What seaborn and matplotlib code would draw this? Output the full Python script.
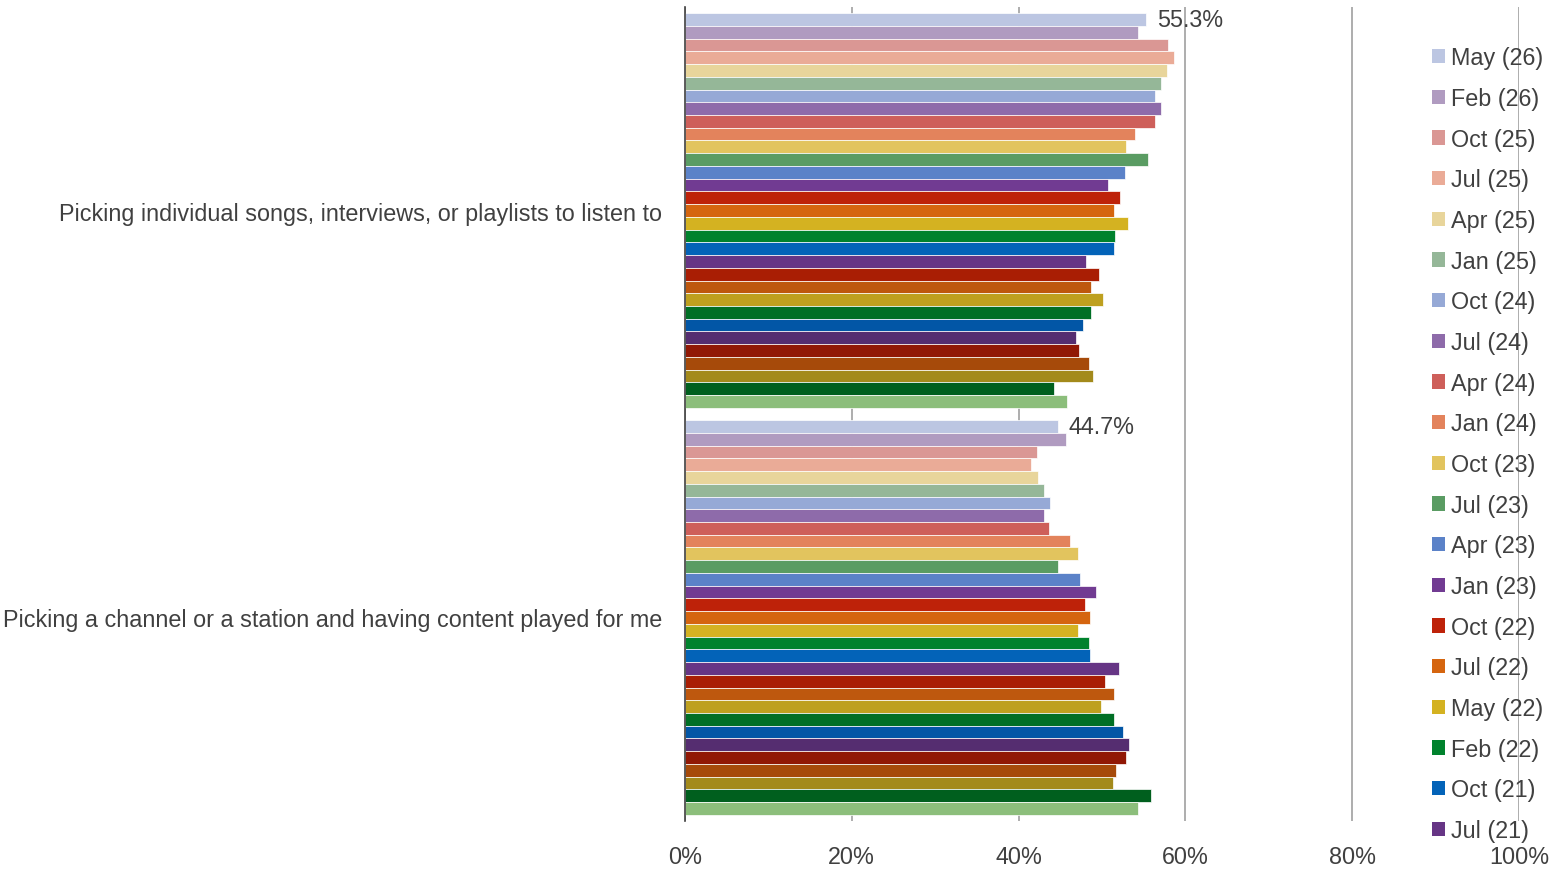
import matplotlib
matplotlib.use("Agg")
import matplotlib.pyplot as plt
from matplotlib.patches import Patch
from matplotlib.ticker import FuncFormatter
import seaborn as sns
import pandas as pd

categories = [
    "Picking individual songs, interviews, or playlists to listen to",
    "Picking a channel or a station and having content played for me",
]

series = [
    "May (26)", "Feb (26)", "Oct (25)", "Jul (25)", "Apr (25)", "Jan (25)",
    "Oct (24)", "Jul (24)", "Apr (24)", "Jan (24)", "Oct (23)", "Jul (23)",
    "Apr (23)", "Jan (23)", "Oct (22)", "Jul (22)", "May (22)", "Feb (22)",
    "Oct (21)", "Jul (21)", "Apr (21)", "Jan (21)", "Oct (20)", "Jul (20)",
    "Apr (20)", "Jan (20)", "Oct (19)", "Jul (19)", "Apr (19)", "Jan (19)",
    "Oct (18)",
]

songs_values = [
    55.3, 54.3, 57.9, 58.6, 57.8, 57.1, 56.3, 57.1, 56.4, 53.9, 52.9, 55.5,
    52.7, 50.7, 52.2, 51.4, 53.1, 51.6, 51.4, 48.1, 49.7, 48.7, 50.1, 48.7,
    47.7, 46.9, 47.3, 48.4, 48.9, 44.2, 45.8,
]

channel_values = [
    44.7, 45.7, 42.2, 41.5, 42.3, 43.1, 43.8, 43.1, 43.7, 46.2, 47.1, 44.7,
    47.4, 49.3, 48.0, 48.6, 47.1, 48.4, 48.6, 52.0, 50.4, 51.4, 49.9, 51.4,
    52.5, 53.2, 52.9, 51.7, 51.3, 55.9, 54.3,
]

colors = [
    "#BCC6E2", "#B09BC0", "#DA9794", "#EAAB97", "#E8D59B", "#95B798",
    "#96A9D6", "#8E6BAA", "#CE5F5A", "#E3835C", "#E2C45E", "#5A9C63",
    "#5B82C8", "#713B92", "#BE2209", "#D5650F", "#D4B221", "#00822D",
    "#0363B8", "#663585", "#A91E04", "#BE580E", "#BEA01F", "#006F25",
    "#0256A6", "#552D70", "#911805", "#A64A0A", "#A38A1B", "#005F1E",
    "#8CBE7B",
]

top_labels = ["55.3%", "44.7%"]
legend_count = 20

rows = []
for s, v1, v2 in zip(series, songs_values, channel_values):
    rows.append({"category": categories[0], "series": s, "value": v1})
    rows.append({"category": categories[1], "series": s, "value": v2})
df = pd.DataFrame(rows)

sns.set_theme(style="white")
plt.rcParams["font.family"] = ["Liberation Sans", "DejaVu Sans"]
text_color = "#404040"
fs = 16.8

fig = plt.figure(figsize=(15.62, 8.70), dpi=100)
ax = fig.add_axes([685 / 1562, 48 / 870, (1519 - 685) / 1562, (870 - 8 - 48) / 870])

palette = dict(zip(series, colors))
sns.barplot(
    data=df, x="value", y="category", hue="series", hue_order=series,
    order=categories, palette=palette, orient="h", width=0.97, dodge=True,
    saturation=1, legend=False, edgecolor="white", linewidth=0.5, ax=ax,
)

ax.set_xlim(0, 100)
ax.set_xticks([0, 20, 40, 60, 80, 100])
ax.xaxis.set_major_formatter(FuncFormatter(lambda v, p: f"{v:.0f}%"))
ax.set_xlabel("")
ax.set_ylabel("")
ax.set_axisbelow(True)
ax.grid(axis="x", color="#A0A0A0", linewidth=1.2)
ax.grid(axis="y", visible=False)
for side in ["top", "right", "bottom"]:
    ax.spines[side].set_visible(False)
ax.spines["left"].set_color("#404040")
ax.spines["left"].set_linewidth(1.2)
ax.tick_params(axis="y", length=0, pad=16.5, labelsize=fs, labelcolor=text_color)
ax.tick_params(axis="x", length=0, pad=17, labelsize=fs, labelcolor=text_color)

ax.bar_label(ax.containers[0], labels=top_labels, padding=8,
             fontsize=fs, color=text_color)

handles = [Patch(facecolor=c, edgecolor="none") for c in colors[:legend_count]]
fig.legend(
    handles, series[:legend_count], loc="upper left",
    bbox_to_anchor=(1432 / 1562, 1 - 47.5 / 870), frameon=False,
    fontsize=fs, labelcolor=text_color, handlelength=0.56, handleheight=0.56,
    handletextpad=0.25, labelspacing=0.757, borderpad=0, borderaxespad=0,
)

fig.savefig("out.png", dpi=100)
